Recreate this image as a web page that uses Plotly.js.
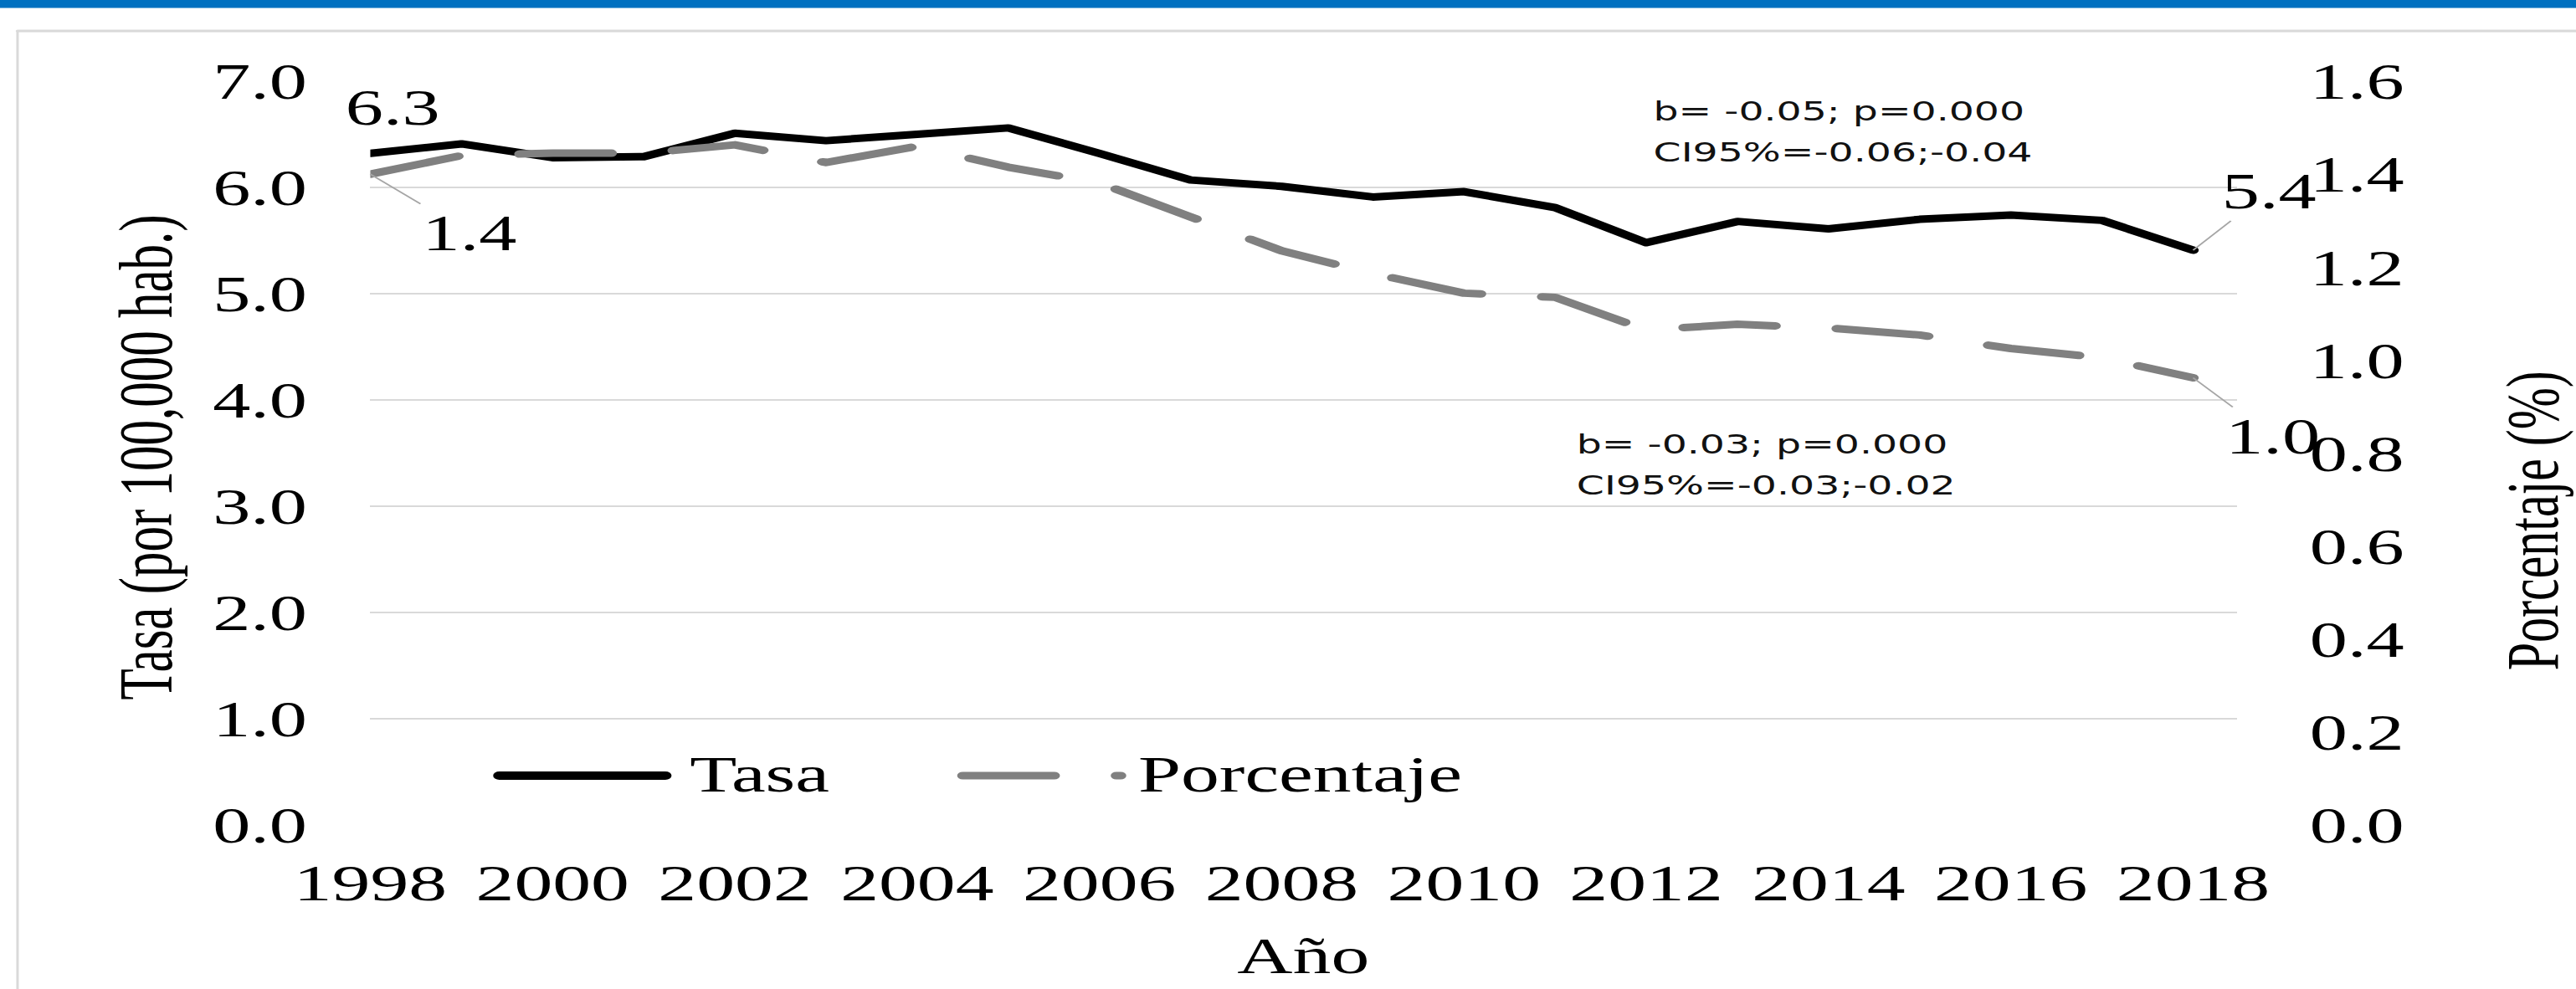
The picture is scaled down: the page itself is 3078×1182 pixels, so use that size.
<!DOCTYPE html>
<html>
<head>
<meta charset="utf-8">
<script src="https://cdn.plot.ly/plotly-3.0.1.min.js"></script>
<style>
html,body{margin:0;padding:0;background:#fff;overflow:hidden;}
#wrap{width:2080px;height:1182px;transform:scaleX(1.479808);transform-origin:0 0;}
#chart{width:2080px;height:1182px;}
#chart .scatterlayer path.js-line{stroke-linecap:round;stroke-linejoin:round;}
#chart .shapelayer path{stroke-linecap:round;}
</style>
</head>
<body>
<div id="wrap"><div id="chart"></div></div>
<script>
// ---- data ----
const years = [1998,1999,2000,2001,2002,2003,2004,2005,2006,2007,2008,2009,2010,2011,2012,2013,2014,2015,2016,2017,2018];
const tasa = [6.32,6.41,6.28,6.29,6.51,6.44,6.50,6.56,6.32,6.07,6.01,5.91,5.96,5.81,5.48,5.68,5.61,5.70,5.74,5.69,5.41];
const porcentaje = [1.40,1.44,1.445,1.445,1.463,1.425,1.46,1.415,1.381,1.308,1.235,1.186,1.144,1.135,1.065,1.077,1.069,1.054,1.025,1.005,0.962];
const xTickYears = [1998,2000,2002,2004,2006,2008,2010,2012,2014,2016,2018];
const tasaTicks = [0,1,2,3,4,5,6,7];
const pctTicks = [0,0.2,0.4,0.6,0.8,1.0,1.2,1.4,1.6];
const seriesNames = ['Tasa','Porcentaje'];
const statsTasa = ['b= -0.05; p=0.000','CI95%=-0.06;-0.04'];
const statsPct = ['b= -0.03; p=0.000','CI95%=-0.03;-0.02'];
const xTitle = 'Año';
const yTitle = 'Tasa (por 100,000 hab.)';
const y2Title = 'Porcentaje (%)';

// ---- geometry (layout only) ----
const W = 2080, H = 1182, S = 3078 / W;
const PL = 443 / S, PR = 2672 / S, PT = 97, PB = 986;
const perYear = (2620 - 443) / 20;
function px(xo){ return (xo / S - PL) / (PR - PL); }
function py(yo){ return (PB - yo) / (PB - PT); }

const serif = 'Liberation Serif, Times New Roman, serif';
const sans = 'DejaVu Sans, Verdana, sans-serif';
const black = '#000000';
const gray = '#808080';
const grid = '#D9D9D9';
const dashPat = '74px,50px';

const traces = [
  {x: years, y: tasa, name: seriesNames[0], mode: 'lines', yaxis: 'y',
   line: {color: black, width: 9}, hoverinfo: 'skip'},
  {x: years, y: porcentaje, name: seriesNames[1], mode: 'lines', yaxis: 'y2',
   line: {color: gray, width: 9, dash: dashPat}, hoverinfo: 'skip'}
];

const tickFont = {family: serif, size: 61, color: '#000'};
const last = years.length - 1;

const annotations = [
  // axis titles
  {text: yTitle, xref: 'paper', yref: 'paper', x: px(176), y: py(546), textangle: -90,
   showarrow: false, xanchor: 'center', yanchor: 'middle', font: {family: serif, size: 61, color: '#000'}},
  {text: y2Title, xref: 'paper', yref: 'paper', x: px(3026), y: py(622), textangle: -90,
   showarrow: false, xanchor: 'center', yanchor: 'middle', font: {family: serif, size: 60, color: '#000'}},
  {text: xTitle, xref: 'paper', yref: 'paper', x: px(1557), y: py(1142),
   showarrow: false, xanchor: 'center', yanchor: 'middle', font: {family: serif, size: 62, color: '#000'}},
  // legend texts
  {text: seriesNames[0], xref: 'paper', yref: 'paper', x: px(821), y: py(925),
   showarrow: false, xanchor: 'left', yanchor: 'middle', font: {family: serif, size: 62, color: '#000'}},
  {text: seriesNames[1], xref: 'paper', yref: 'paper', x: px(1357), y: py(925),
   showarrow: false, xanchor: 'left', yanchor: 'middle', font: {family: serif, size: 62, color: '#000'}},
  // regression stats
  {text: statsTasa[0], xref: 'paper', yref: 'paper', x: px(1973), y: py(133),
   showarrow: false, xanchor: 'left', yanchor: 'middle', font: {family: sans, size: 32, color: '#111'}},
  {text: statsTasa[1], xref: 'paper', yref: 'paper', x: px(1973), y: py(182),
   showarrow: false, xanchor: 'left', yanchor: 'middle', font: {family: sans, size: 32, color: '#111'}},
  {text: statsPct[0], xref: 'paper', yref: 'paper', x: px(1881), y: py(531),
   showarrow: false, xanchor: 'left', yanchor: 'middle', font: {family: sans, size: 32, color: '#111'}},
  {text: statsPct[1], xref: 'paper', yref: 'paper', x: px(1881), y: py(580),
   showarrow: false, xanchor: 'left', yanchor: 'middle', font: {family: sans, size: 32, color: '#111'}},
  // data labels
  {text: tasa[0].toFixed(1), xref: 'x', yref: 'y', x: years[0], y: tasa[0], showarrow: false,
   xshift: 18, yshift: 55, font: {family: serif, size: 61, color: '#000'}},
  {text: porcentaje[0].toFixed(1), xref: 'x', yref: 'y2', x: years[0], y: porcentaje[0], showarrow: true,
   arrowhead: 0, arrowwidth: 1.5, arrowcolor: '#A6A6A6', standoff: 0, ax: 80, ay: 70,
   font: {family: serif, size: 61, color: '#000'}},
  {text: tasa[last].toFixed(1), xref: 'x', yref: 'y', x: years[last], y: tasa[last], showarrow: true,
   arrowhead: 0, arrowwidth: 1.5, arrowcolor: '#A6A6A6', standoff: 0, ax: 61, ay: -70,
   font: {family: serif, size: 61, color: '#000'}},
  {text: porcentaje[last].toFixed(1), xref: 'x', yref: 'y2', x: years[last], y: porcentaje[last], showarrow: true,
   arrowhead: 0, arrowwidth: 1.5, arrowcolor: '#A6A6A6', standoff: 0, ax: 64, ay: 70,
   font: {family: serif, size: 61, color: '#000'}}
];

const shapes = [
  // top blue band
  {type: 'rect', xref: 'paper', yref: 'paper', x0: px(0), x1: px(3078), y0: py(0), y1: py(9.5),
   fillcolor: '#0070C0', line: {width: 0}, layer: 'above'},
  // chart frame (left + top)
  {type: 'line', xref: 'paper', yref: 'paper', x0: px(21.7), x1: px(21.7), y0: py(37), y1: py(1190),
   line: {color: grid, width: 2}},
  {type: 'line', xref: 'paper', yref: 'paper', x0: px(21.7), x1: px(3090), y0: py(37), y1: py(37),
   line: {color: grid, width: 3}},
  // legend samples
  {type: 'line', xref: 'paper', yref: 'paper', x0: px(403.5 * S), x1: px(537.5 * S), y0: py(927), y1: py(927),
   line: {color: black, width: 10}},
  {type: 'line', xref: 'paper', yref: 'paper', x0: px(777.5 * S), x1: px(905 * S), y0: py(927), y1: py(927),
   line: {color: gray, width: 9, dash: dashPat}}
];

const layout = {
  width: W, height: H,
  margin: {l: PL, r: W - PR, t: PT, b: H - PB, pad: 0},
  paper_bgcolor: '#ffffff', plot_bgcolor: '#ffffff',
  showlegend: false,
  xaxis: {range: [years[0], years[0] + (2672 - 443) / perYear], tickvals: xTickYears,
          ticktext: xTickYears.map(String), showgrid: false, zeroline: false, showline: false,
          ticks: '', tickfont: {family: serif, size: 62, color: '#000'}, ticklabelstandoff: 27,
          fixedrange: true},
  yaxis: {range: [0, 7], tickvals: tasaTicks, tickformat: '.1f', showgrid: true, gridcolor: grid,
          gridwidth: 2.5, zeroline: false, showline: false, ticks: '', tickfont: tickFont,
          ticklabelstandoff: 50, fixedrange: true},
  yaxis2: {overlaying: 'y', side: 'right', range: [0, 1.6], tickvals: pctTicks, tickformat: '.1f',
           showgrid: false, zeroline: false, showline: false, ticks: '', tickfont: tickFont,
           ticklabelstandoff: 58, fixedrange: true},
  annotations: annotations,
  shapes: shapes
};

Plotly.newPlot('chart', traces, layout, {displayModeBar: false, staticPlot: true});
</script>
</body>
</html>
